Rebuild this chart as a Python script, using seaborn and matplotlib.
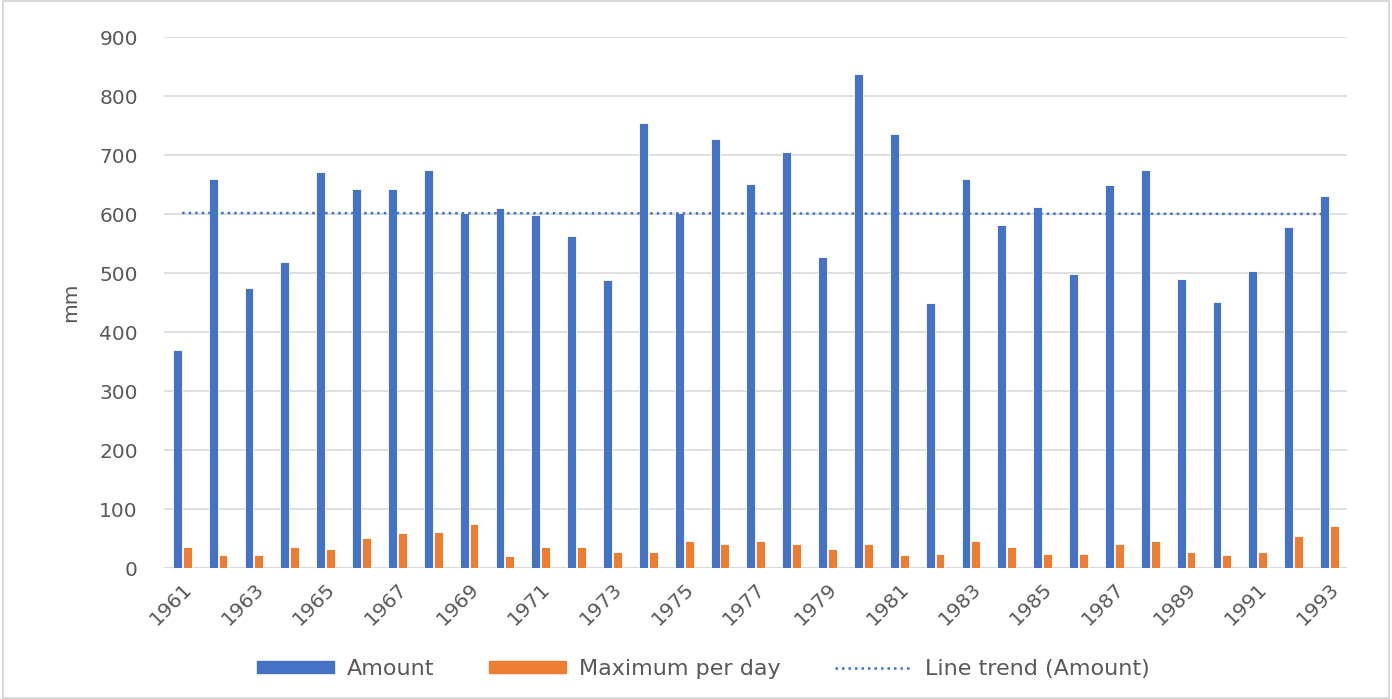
import numpy as np
import pandas as pd
import matplotlib
matplotlib.use("Agg")
import matplotlib.pyplot as plt
import seaborn as sns
from matplotlib.patches import Patch
from matplotlib.lines import Line2D

# data
years = list(range(1961, 1994))
amount = [370, 660, 475, 519, 672, 643, 643, 675, 602, 610, 599, 563, 488,
          755, 602, 727, 651, 706, 527, 838, 735, 449, 660, 581, 612, 498,
          649, 675, 490, 451, 504, 578, 631]
max_per_day = [36, 23, 23, 36, 33, 52, 59, 62, 75, 20, 36, 36, 28, 28, 46,
               41, 46, 41, 33, 41, 23, 25, 46, 36, 25, 25, 41, 46, 28, 23,
               28, 54, 72]
series_names = ["Amount", "Maximum per day"]
trend_name = "Line trend (Amount)"
y_ticks = [0, 100, 200, 300, 400, 500, 600, 700, 800, 900]

blue = "#4472C4"
orange = "#ED7D31"
text_col = "#595959"

df = pd.DataFrame({
    "year": [str(y) for y in years] * 2,
    "value": amount + max_per_day,
    "series": [series_names[0]] * len(years) + [series_names[1]] * len(years),
})

sns.set_theme(style="white")
plt.rcParams["font.family"] = ["DejaVu Sans"]

fig = plt.figure(figsize=(13.92, 6.99), dpi=100)
ax = fig.add_axes([0.118, 0.187, 0.850, 0.760])

sns.barplot(data=df, x="year", y="value", hue="series",
            palette=[blue, orange], saturation=1, width=0.55, gap=0.1,
            edgecolor="white", linewidth=0.6, legend=False, ax=ax)

# linear trend of Amount across the categorical positions
xpos = np.arange(len(years))
k, b = np.polyfit(xpos, amount, 1)
ax.plot(xpos, k * xpos + b, color=blue, linestyle=(0, (1, 1.6)), linewidth=1.8)

ax.set_xlim(-0.5, len(years) - 0.5)
ax.set_ylim(0, 900)
ax.set_yticks(y_ticks)
ax.yaxis.grid(True, color="#d9d9d9", linewidth=1.2)
ax.set_axisbelow(True)
for s in ax.spines.values():
    s.set_visible(False)
ax.axhline(0, color="#d9d9d9", linewidth=1.2, zorder=0)

ax.set_xticks(xpos[::2])
ax.set_xticklabels([str(y) for y in years[::2]], rotation=45, ha="right",
                   rotation_mode="anchor")
ax.tick_params(axis="both", labelsize=14.5, colors=text_col, length=0, pad=8)
ax.tick_params(axis="y", pad=19)
ax.set_xlabel("")
ax.set_ylabel("mm", fontsize=14.5, color=text_col, labelpad=14)

handles = [Patch(facecolor=blue, edgecolor=blue),
           Patch(facecolor=orange, edgecolor=orange),
           Line2D([0], [0], color=blue, linestyle=(0, (1, 1.6)), linewidth=1.8)]
leg = fig.legend(handles, series_names + [trend_name], loc="center",
                 bbox_to_anchor=(0.505, 0.043), ncol=3, frameon=False,
                 fontsize=16, handlelength=3.5, handleheight=0.5,
                 handletextpad=0.55, columnspacing=2.45)
for t in leg.get_texts():
    t.set_color(text_col)

# light border around the whole chart
fig.patches.append(plt.Rectangle((0.002, 0.002), 0.996, 0.996,
                                 transform=fig.transFigure, fill=False,
                                 edgecolor="#d9d9d9", linewidth=1.5))

fig.savefig("out.png", dpi=100, facecolor="white")
